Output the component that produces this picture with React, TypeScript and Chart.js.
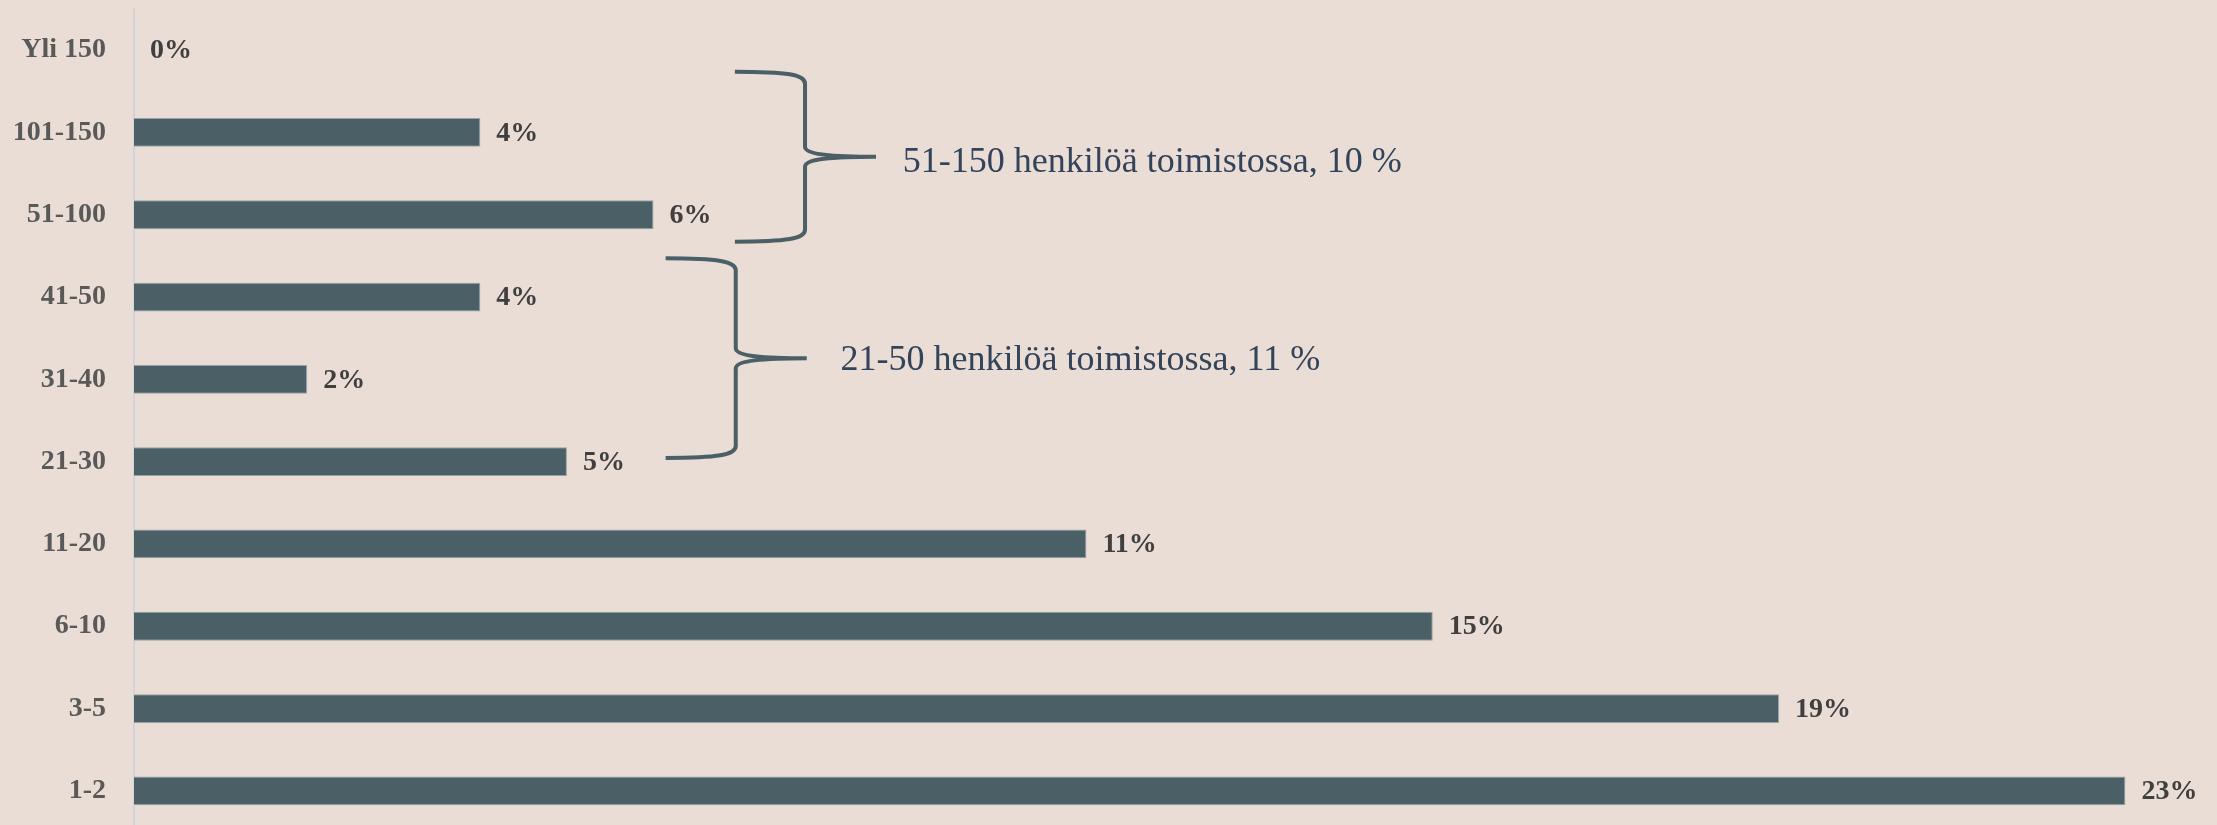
import React, { useEffect, useRef } from "react";
import { Chart, registerables } from "chart.js";

Chart.register(...registerables);

const categories = ["Yli 150", "101-150", "51-100", "41-50", "31-40", "21-30", "11-20", "6-10", "3-5", "1-2"];
const shares = [0, 4, 6, 4, 2, 5, 11, 15, 19, 23];
const shareLabels = ["0%", "4%", "6%", "4%", "2%", "5%", "11%", "15%", "19%", "23%"];
const groupLabels = ["51-150 henkilöä toimistossa, 10 %", "21-50 henkilöä toimistossa, 11 %"];

const BG = "#E9DDD5";
const BAR = "#4A5F66";

// brace geometry in scale units (x in %, y in category index)
const braces = [
  { xStart: 6.94, xV: 7.75, xTip: 8.57, yTop: 0.261, yTip: 1.294, yBot: 2.327, xText: 8.88, yText: 1.476 },
  { xStart: 6.14, xV: 6.95, xTip: 7.77, yTop: 2.529, yTip: 3.744, yBot: 4.955, xText: 8.16, yText: 3.886 },
];

const valueLabelPlugin = {
  id: "valueLabels",
  afterDatasetsDraw(chart: any) {
    const ctx = chart.ctx;
    const meta = chart.getDatasetMeta(0);
    ctx.save();
    ctx.font = "bold 28px 'Liberation Serif'";
    ctx.fillStyle = "#3F3F3F";
    ctx.textBaseline = "middle";
    ctx.textAlign = "left";
    meta.data.forEach((bar: any, i: number) => {
      ctx.fillText(shareLabels[i], bar.x + 16, bar.y + 1);
    });
    ctx.restore();
  },
};

const bracePlugin = {
  id: "braces",
  afterDraw(chart: any) {
    const ctx = chart.ctx;
    const xs = chart.scales.x;
    const ys = chart.scales.y;
    ctx.save();
    braces.forEach((b, i) => {
      const x0 = xs.getPixelForValue(b.xStart);
      const xv = xs.getPixelForValue(b.xV);
      const xt = xs.getPixelForValue(b.xTip);
      const yt = ys.getPixelForValue(b.yTop);
      const yc = ys.getPixelForValue(b.yTip);
      const yb = ys.getPixelForValue(b.yBot);
      ctx.strokeStyle = BAR;
      ctx.lineWidth = 4;
      ctx.lineCap = "butt";
      ctx.lineJoin = "round";
      ctx.beginPath();
      ctx.moveTo(x0, yt);
      ctx.bezierCurveTo(x0 + (xv - x0) * 0.75, yt, xv, yt + 3, xv, yt + 12);
      ctx.lineTo(xv, yc - 10);
      ctx.bezierCurveTo(xv, yc - 3, xv + 22, yc, xt, yc);
      ctx.moveTo(xt, yc);
      ctx.bezierCurveTo(xv + 22, yc, xv, yc + 3, xv, yc + 10);
      ctx.lineTo(xv, yb - 12);
      ctx.bezierCurveTo(xv, yb - 3, x0 + (xv - x0) * 0.75, yb, x0, yb);
      ctx.stroke();

      ctx.font = "36px 'Liberation Serif'";
      ctx.fillStyle = "#33435A";
      ctx.textBaseline = "alphabetic";
      ctx.textAlign = "left";
      ctx.fillText(groupLabels[i], xs.getPixelForValue(b.xText), ys.getPixelForValue(b.yText));
    });
    ctx.restore();
  },
};

export default function App() {
  const ref = useRef<HTMLCanvasElement | null>(null);
  useEffect(() => {
    if (!ref.current) return;
    const chart = new Chart(ref.current, {
      type: "bar",
      data: {
        labels: categories,
        datasets: [
          {
            data: shares,
            backgroundColor: BAR,
            borderColor: "#98A2A4",
            borderWidth: 1,
            barPercentage: 0.35,
            categoryPercentage: 1,
          },
        ],
      },
      options: {
        indexAxis: "y",
        animation: false,
        responsive: false,
        devicePixelRatio: 1,
        layout: { padding: { left: 0, right: 5, top: 9, bottom: 1 } },
        plugins: {
          legend: { display: false },
          tooltip: { enabled: false },
          title: { display: false },
        },
        scales: {
          x: { display: false, min: 0, max: 24 },
          y: {
            afterFit: (scale: any) => {
              scale.width = 134;
              scale.paddingTop = 0;
              scale.paddingBottom = 0;
            },
            grid: { display: false },
            border: { display: true, color: "#D3D4D9", width: 2 },
            ticks: {
              padding: 20,
              color: "#595959",
              font: { family: "'Liberation Serif'", size: 28, weight: "bold" },
            },
          },
        },
      },
      plugins: [valueLabelPlugin, bracePlugin],
    });
    return () => chart.destroy();
  }, []);
  return (
    <div
      style={{
        position: "fixed",
        left: 0,
        top: 0,
        width: 2217,
        height: 833,
        background: BG,
        overflow: "hidden",
      }}
    >
      <canvas ref={ref} width={2217} height={833} style={{ display: "block", width: 2217, height: 833 }} />
    </div>
  );
}
